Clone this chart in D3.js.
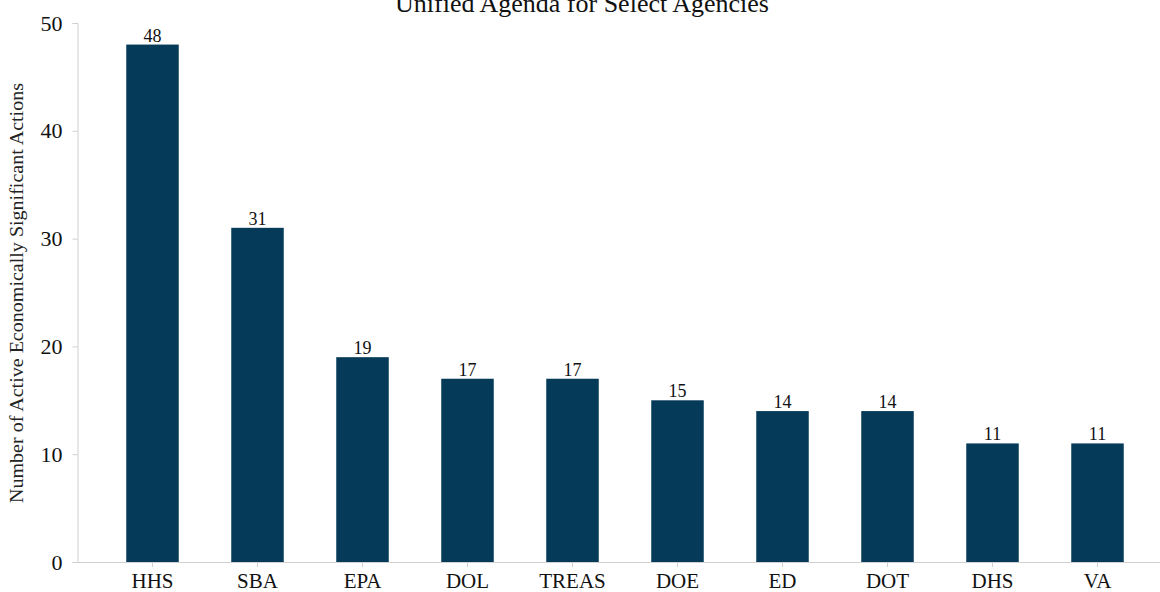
<!DOCTYPE html>
<html><head><meta charset="utf-8">
<script src="https://cdn.jsdelivr.net/npm/d3@7"></script>
<style>body{margin:0;background:#fff}svg{display:block}</style>
</head><body>
<svg id="c" width="1160" height="592"></svg>
<script>
const categories = ["HHS","SBA","EPA","DOL","TREAS","DOE","ED","DOT","DHS","VA"];
const values = [48,31,19,17,17,15,14,14,11,11];
const yTicks = [0,10,20,30,40,50];
const title = "Unified Agenda for Select Agencies";
const yLabel = "Number of Active Economically Significant Actions";

const svg = d3.select("#c");
const font = "'Liberation Serif','Times New Roman',serif";
const x = d3.scaleBand().domain(categories).range([100,1150]).paddingInner(0.5).paddingOuter(0.25);
const y = d3.scaleLinear().domain([0,50]).range([562,23]);

// axes
const gx = svg.append("g").attr("transform","translate(0,562)").call(d3.axisBottom(x).tickSize(5).tickPadding(6));
gx.select(".domain").remove();
svg.append("line").attr("x1",77).attr("x2",1160).attr("y1",562.5).attr("y2",562.5).attr("stroke","#d0d0d0");
gx.selectAll(".tick line").attr("stroke","#d0d0d0");
gx.selectAll("text").attr("font-family",font).attr("font-size",21).attr("fill","#111");

const gy = svg.append("g").attr("transform","translate(77.5,0)").call(d3.axisLeft(y).tickValues(yTicks).tickSize(5).tickPadding(10));
gy.select(".domain").attr("stroke","#d0d0d0");
gy.selectAll(".tick line").attr("stroke","#d0d0d0");
gy.selectAll("text").attr("font-family",font).attr("font-size",22).attr("fill","#111");

// bars
svg.append("g").selectAll("rect").data(values).join("rect")
  .attr("x",(d,i)=>x(categories[i])).attr("width",x.bandwidth())
  .attr("y",d=>y(d)).attr("height",d=>y(0)-y(d)).attr("fill","#053a58");

svg.append("g").selectAll("text").data(values).join("text")
  .attr("x",(d,i)=>x(categories[i])+x.bandwidth()/2).attr("y",d=>y(d)-3)
  .attr("text-anchor","middle").attr("font-family",font).attr("font-size",18).attr("fill","#111")
  .text(d=>d);

svg.append("text").attr("x",582).attr("y",12).attr("text-anchor","middle")
  .attr("font-family",font).attr("font-size",26).attr("fill","#111").text(title);

svg.append("text").attr("transform","translate(23,293) rotate(-90)").attr("text-anchor","middle")
  .attr("font-family",font).attr("font-size",18).attr("fill","#222")
  .attr("textLength",420).attr("lengthAdjust","spacingAndGlyphs").text(yLabel);
</script>
</body></html>
